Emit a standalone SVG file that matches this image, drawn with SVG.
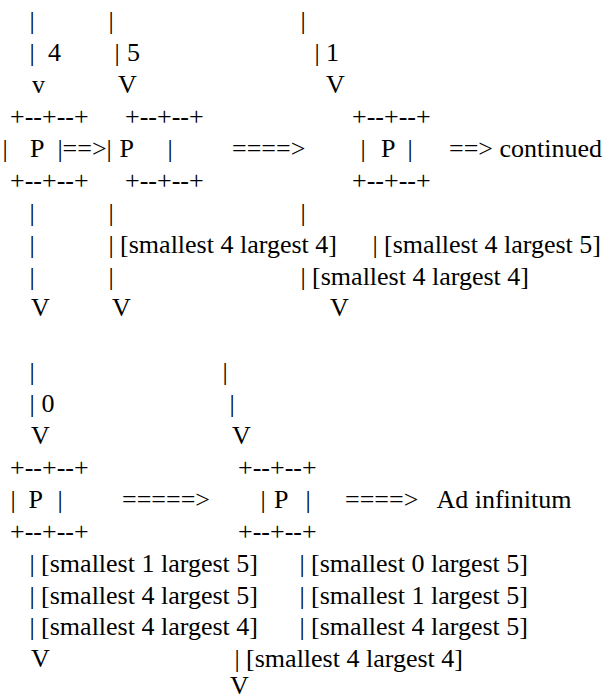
<svg xmlns="http://www.w3.org/2000/svg" width="613" height="698" viewBox="0 0 613 698">
<style>
text{font-family:"Liberation Serif","Times New Roman",serif;font-size:26px;fill:#000;white-space:pre}
</style>
<rect width="613" height="698" fill="#fff"/>
<g id="connectors">
<text x="29.4" y="29.3">|</text><text x="108.4" y="29.3">|</text><text x="300.4" y="29.3">|</text>
<text x="29.4" y="61.2">|</text><text x="48" y="61.2">4</text>
<text x="114.4" y="61.2">|</text><text x="127" y="61.2">5</text>
<text x="314.4" y="61.2">|</text><text x="326" y="61.2">1</text>
<text x="32" y="93.1">v</text><text x="118" y="93.1">V</text><text x="326" y="93.1">V</text>
<text x="62.6" y="156.9">==&gt;</text>
<text x="232" y="156.9">====&gt;</text>
<text x="449" y="156.9">==&gt; continued</text>
<text x="29.4" y="220.7">|</text><text x="108.4" y="220.7">|</text><text x="300.4" y="220.7">|</text>
<text x="29.4" y="252.6">|</text><text x="108.4" y="252.6">| [smallest 4 largest 4]</text><text x="372.4" y="252.6">| [smallest 4 largest 5]</text>
<text x="29.4" y="284.5">|</text><text x="108.4" y="284.5">|</text><text x="300.4" y="284.5">| [smallest 4 largest 4]</text>
<text x="31" y="316.4">V</text><text x="112" y="316.4">V</text><text x="330" y="316.4">V</text>
<text x="29.4" y="380.2">|</text><text x="222.4" y="380.2">|</text>
<text x="29.4" y="412.1">|</text><text x="41.5" y="412.1">0</text><text x="229.4" y="412.1">|</text>
<text x="31" y="444">V</text><text x="232" y="444">V</text>
<text x="122" y="507.8">=====&gt;</text>
<text x="345" y="507.8">====&gt;   Ad infinitum</text>
<text x="29.4" y="571.6">| [smallest 1 largest 5]</text><text x="299.4" y="571.6">| [smallest 0 largest 5]</text>
<text x="29.4" y="603.5">| [smallest 4 largest 5]</text><text x="299.4" y="603.5">| [smallest 1 largest 5]</text>
<text x="29.4" y="635.4">| [smallest 4 largest 4]</text><text x="299.4" y="635.4">| [smallest 4 largest 5]</text>
<text x="31" y="667.3">V</text><text x="234.4" y="667.3">| [smallest 4 largest 4]</text>
<text x="230" y="694">V</text>
</g>
<g id="p1">
<text x="10" y="125">+--+--+</text>
<text x="2.4" y="156.9">|</text><text x="30" y="156.9">P</text><text x="57.4" y="156.9">|</text>
<text x="10" y="188.8">+--+--+</text>
</g>
<g id="p2">
<text x="125" y="125">+--+--+</text>
<text x="106.6" y="156.9">|</text><text x="119.5" y="156.9">P</text><text x="167.4" y="156.9">|</text>
<text x="125" y="188.8">+--+--+</text>
</g>
<g id="p3">
<text x="352" y="125">+--+--+</text>
<text x="360.4" y="156.9">|</text><text x="381" y="156.9">P</text><text x="407.4" y="156.9">|</text>
<text x="352" y="188.8">+--+--+</text>
</g>
<g id="p4">
<text x="10" y="475.9">+--+--+</text>
<text x="10.4" y="507.8">|</text><text x="28.5" y="507.8">P</text><text x="57.4" y="507.8">|</text>
<text x="10" y="539.7">+--+--+</text>
</g>
<g id="p5">
<text x="238" y="475.9">+--+--+</text>
<text x="260.4" y="507.8">|</text><text x="274" y="507.8">P</text><text x="305.4" y="507.8">|</text>
<text x="238" y="539.7">+--+--+</text>
</g>
</svg>
